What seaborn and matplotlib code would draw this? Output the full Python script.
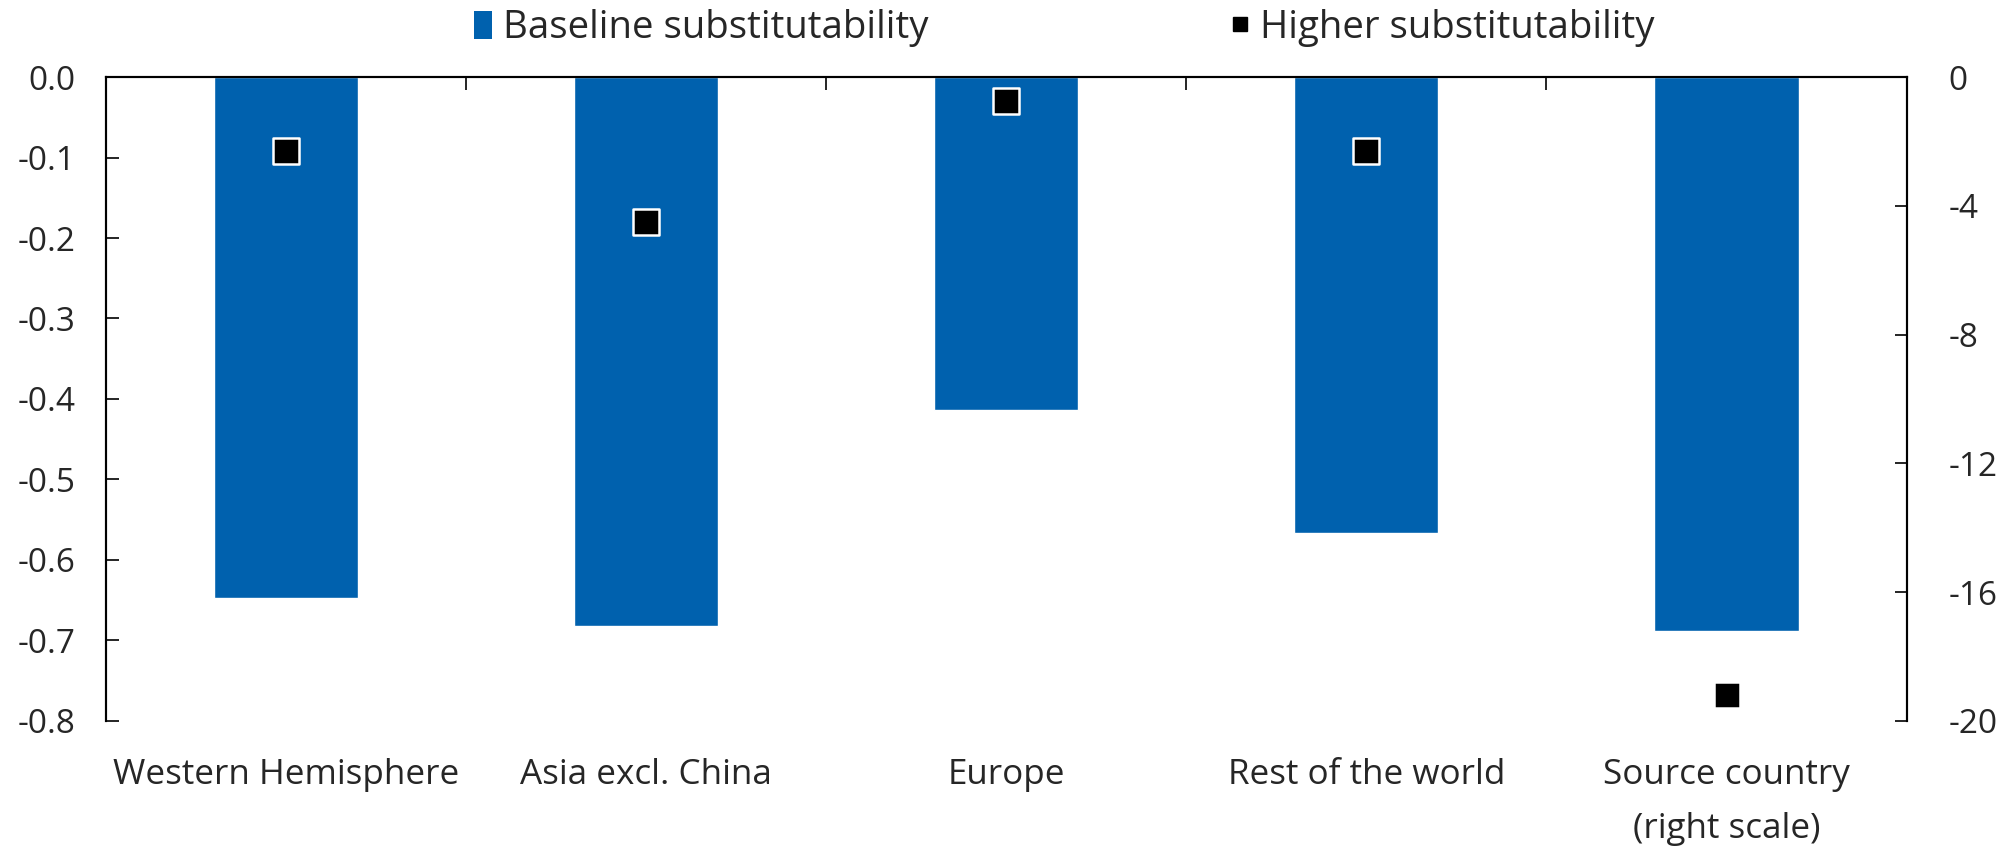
import numpy as np
import pandas as pd
import matplotlib
matplotlib.use("Agg")
import matplotlib.pyplot as plt
from matplotlib.ticker import FixedLocator, FuncFormatter
from matplotlib.patches import Patch
from matplotlib.lines import Line2D
import seaborn as sns

# Regions and results
categories = ["Western Hemisphere", "Asia excl. China", "Europe",
              "Rest of the world", "Source country\n(right scale)"]
# Regions on the left scale, source country on the right scale
baseline_left = [-0.647, -0.682, -0.414, -0.567, np.nan]
higher_left = [-0.092, -0.180, -0.030, -0.092, np.nan]
baseline_right = [np.nan, np.nan, np.nan, np.nan, -17.2]
higher_right = [np.nan, np.nan, np.nan, np.nan, -19.2]

left_ticks = [0.0, -0.1, -0.2, -0.3, -0.4, -0.5, -0.6, -0.7, -0.8]
right_ticks = [0, -4, -8, -12, -16, -20]
legend_labels = ["Baseline substitutability", "Higher substitutability"]

BLUE = "#0061AE"
FONT = "Open Sans"
FS_TICK = 24
FS_CAT = 25.2
FS_LEG = 27.6

sns.set_theme(style="white")
plt.rcParams["font.family"] = [FONT, "DejaVu Sans"]
plt.rcParams["axes.unicode_minus"] = False

df_left = pd.DataFrame({"region": categories, "base": baseline_left, "high": higher_left})
df_right = pd.DataFrame({"region": categories, "base": baseline_right, "high": higher_right})

fig = plt.figure(figsize=(20.05, 8.47), dpi=100)
ax = fig.add_axes([0.0529, 0.149, 0.898, 0.760])
ax2 = ax.twinx()

bar_kw = dict(x="region", y="base", order=categories, color=BLUE, width=0.4,
              errorbar=None, saturation=1)
sns.barplot(data=df_left, ax=ax, **bar_kw)
sns.barplot(data=df_right, ax=ax2, **bar_kw)

pt_kw = dict(x="region", y="high", order=categories, jitter=False, marker="s",
             size=19, color="black", edgecolor="white", linewidth=1.8, zorder=5)
sns.stripplot(data=df_left, ax=ax, **pt_kw)
sns.stripplot(data=df_right, ax=ax2, **pt_kw)

ax.set_ylim(-0.8, 0)
ax2.set_ylim(-20, 0)
ax.set_xlim(-0.5, len(categories) - 0.5)

ax.yaxis.set_major_locator(FixedLocator(left_ticks))
ax.yaxis.set_major_formatter(FuncFormatter(lambda v, p: f"{v:.1f}"))
ax2.yaxis.set_major_locator(FixedLocator(right_ticks))
ax2.yaxis.set_major_formatter(FuncFormatter(lambda v, p: f"{v:.0f}"))

for a in (ax, ax2):
    a.set_xlabel("")
    a.set_ylabel("")
    for s in a.spines.values():
        s.set_color("black")
        s.set_linewidth(1.5)
    a.spines["bottom"].set_visible(False)

ax.tick_params(axis="y", which="major", left=True, right=False, direction="in",
               length=9, width=1.2, color="black", labelsize=FS_TICK, pad=22)
ax2.tick_params(axis="y", which="major", right=True, left=False, direction="in",
                length=9, width=1.2, color="black", labelsize=FS_TICK, pad=30)

# category labels at the bottom, separators on the zero line at the top
ax.set_xticks(range(len(categories)))
ax.set_xticklabels(categories, linespacing=1.75)
ax.xaxis.set_minor_locator(FixedLocator([i + 0.5 for i in range(len(categories) - 1)]))
ax.tick_params(axis="x", which="major", length=0, labelsize=FS_CAT, pad=27)
ax.tick_params(axis="x", which="minor", top=True, bottom=False, direction="in",
               length=9, width=1.2, color="black")
ax2.xaxis.set_visible(False)

handles = [
    Patch(facecolor=BLUE, edgecolor="none"),
    Line2D([], [], marker="s", linestyle="none", color="black", markersize=10.5),
]
fig.legend(handles, legend_labels, loc="upper center", bbox_to_anchor=(0.531, 1.03),
           ncol=2, frameon=False, fontsize=FS_LEG, handlelength=0.45, handleheight=0.75,
           handletextpad=0.3, columnspacing=7.9)

fig.savefig("out.png", dpi=100, facecolor="white")
